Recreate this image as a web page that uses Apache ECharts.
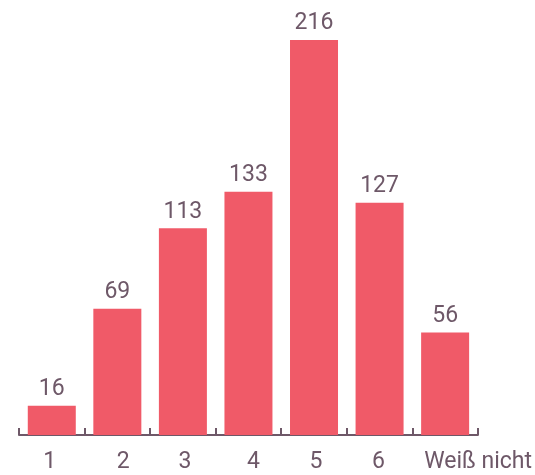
<!DOCTYPE html>
<html><head><meta charset="utf-8">
<script src="https://cdn.jsdelivr.net/npm/echarts@6/dist/echarts.min.js"></script>
<style>html,body{margin:0;padding:0;background:#fff}#c{width:535px;height:475px}</style>
</head><body><div id="c"></div>
<script>
const categories = ['1','2','3','4','5','6','Weiß nicht'];
const values = [16,69,113,133,216,127,56];
// horizontal nudges of the category labels (px), as in the reference
const labelShift = [-2,6,2,5,2,-1,33];
const catData = categories.map((c,i)=>{
  const s = labelShift[i];
  return {value:c, textStyle:{padding: s>=0 ? [0,0,0,2*s] : [0,-2*s,0,0]}};
});
const chart = echarts.init(document.getElementById('c'));
chart.setOption({
  animation:false,
  grid:{left:19,right:57,top:40,bottom:40},
  xAxis:{type:'category',data:catData,
    axisLine:{show:true,lineStyle:{color:'#6e5868',width:2}},
    axisTick:{show:true,inside:true,length:7,interval:0,lineStyle:{color:'#6e5868',width:2}},
    axisLabel:{interval:0,color:'#6e5868',fontSize:23,fontFamily:'Roboto',margin:16}},
  yAxis:{type:'value',min:0,max:216,show:false,splitLine:{show:false}},
  series:[{type:'bar',data:values,barWidth:48,z:1,itemStyle:{color:'#f05a68'},
    label:{show:true,position:'top',distance:5,color:'#6e5868',fontSize:23,fontFamily:'Roboto'}}]
});
</script></body></html>
